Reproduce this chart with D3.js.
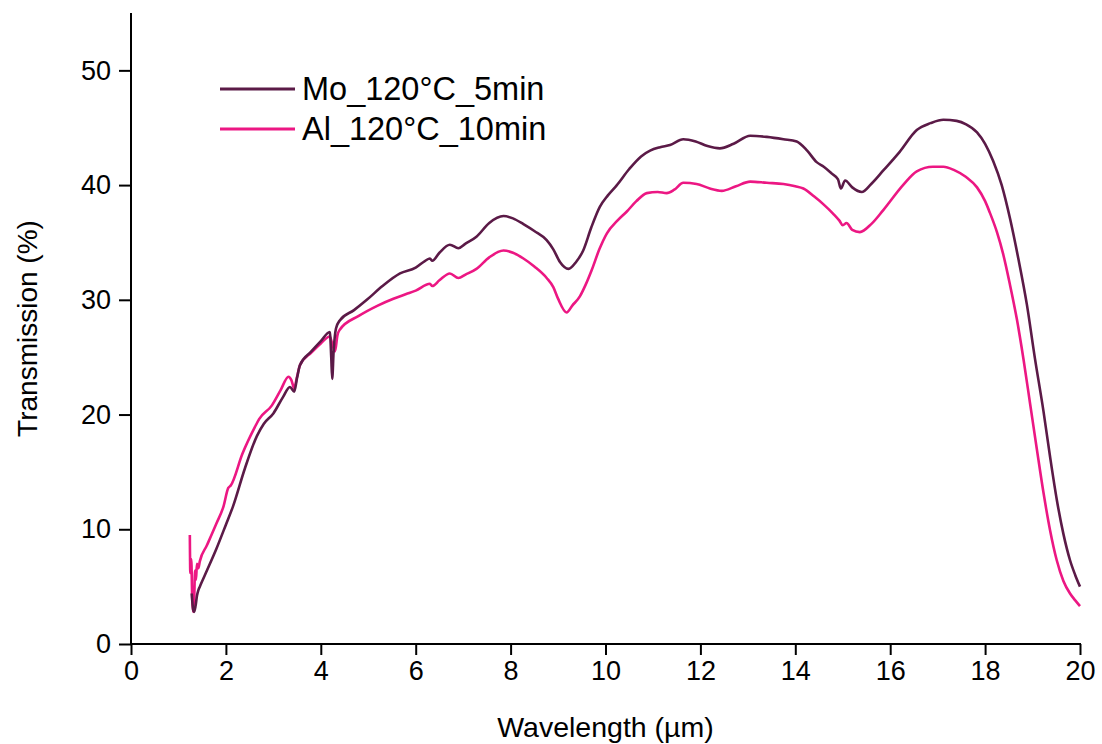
<!DOCTYPE html>
<html>
<head>
<meta charset="utf-8">
<script src="https://cdn.jsdelivr.net/npm/d3@7"></script>
<style>
  body { margin: 0; background: #fff; }
  svg text { font-family: "Liberation Sans", Arial, sans-serif; fill: #000; }
</style>
</head>
<body>
<svg width="1102" height="744"></svg>
<script>
// [wavelength µm, transmission %]
const moData = [
  [1.28, 4.4], [1.31, 3.0], [1.33, 2.8], [1.36, 3.3], [1.39, 4.2], [1.42, 4.7], [1.45, 5.0],
  [1.6, 6.4], [1.8, 8.3], [2.0, 10.4], [2.15, 12.0], [2.4, 15.3], [2.65, 18.1], [2.8, 19.2],
  [3.0, 20.1], [3.2, 21.5], [3.35, 22.4], [3.44, 22.0], [3.5, 23.2], [3.56, 24.3], [3.8, 25.5],
  [4.0, 26.4], [4.19, 27.2], [4.22, 25.0], [4.24, 23.1], [4.27, 25.5], [4.32, 27.5], [4.4, 28.2],
  [4.7, 29.1], [4.97, 30.0], [5.3, 31.2], [5.67, 32.3], [6.0, 32.8], [6.2, 33.4], [6.3, 33.6],
  [6.35, 33.4], [6.5, 34.1], [6.72, 34.8], [6.9, 34.5], [7.05, 34.9], [7.28, 35.5], [7.55, 36.7],
  [7.85, 37.3], [8.05, 37.1], [8.27, 36.6], [8.5, 36.0], [8.76, 35.2], [8.9, 34.4], [9.04, 33.3],
  [9.22, 32.7], [9.38, 33.3], [9.53, 34.3], [9.7, 36.3], [9.88, 38.1], [10.05, 39.1], [10.24, 40.0],
  [10.5, 41.4], [10.75, 42.5], [10.94, 43.0], [11.15, 43.3], [11.36, 43.5], [11.64, 44.0],
  [11.9, 43.8], [12.15, 43.4], [12.41, 43.2], [12.7, 43.6], [13.05, 44.3], [13.4, 44.2],
  [13.75, 44.0], [14.03, 43.8], [14.25, 43.0], [14.45, 42.0], [14.6, 41.6], [14.77, 41.0],
  [14.9, 40.5], [14.96, 39.7], [15.05, 40.4], [15.2, 39.8], [15.4, 39.4], [15.6, 40.1],
  [15.86, 41.3], [16.2, 42.9], [16.56, 44.8], [16.85, 45.4], [17.12, 45.7], [17.4, 45.6],
  [17.6, 45.3], [17.83, 44.6], [18.0, 43.6], [18.17, 42.1], [18.35, 40.0], [18.53, 37.0],
  [18.7, 33.6], [18.88, 29.6], [19.05, 24.9], [19.23, 20.3], [19.37, 16.3], [19.51, 12.6],
  [19.65, 9.6], [19.79, 7.3], [19.9, 6.0], [20.0, 5.0]
];

const alData = [
  [1.24, 9.5], [1.25, 6.2], [1.27, 7.4], [1.29, 4.0], [1.31, 2.8], [1.33, 3.6], [1.35, 6.4],
  [1.37, 5.6], [1.39, 7.0], [1.42, 6.6], [1.45, 7.2], [1.6, 8.6], [1.8, 10.5], [1.95, 12.0],
  [2.05, 13.6], [2.1, 13.8], [2.35, 16.6], [2.61, 18.9], [2.7, 19.6], [2.97, 20.8], [3.15, 22.1],
  [3.32, 23.3], [3.38, 23.0], [3.44, 22.3], [3.5, 23.3], [3.56, 24.3], [3.8, 25.4], [4.0, 26.2],
  [4.19, 26.8], [4.25, 26.0], [4.3, 25.5], [4.35, 26.9], [4.4, 27.4], [4.8, 28.6], [5.2, 29.5],
  [5.53, 30.1], [5.8, 30.5], [6.0, 30.8], [6.3, 31.4], [6.35, 31.2], [6.5, 31.7], [6.72, 32.3],
  [6.9, 31.9], [7.05, 32.2], [7.28, 32.7], [7.55, 33.7], [7.85, 34.3], [8.05, 34.1], [8.27, 33.6],
  [8.5, 32.9], [8.76, 31.9], [8.9, 31.1], [9.0, 30.1], [9.18, 28.9], [9.3, 29.5], [9.46, 30.3],
  [9.58, 31.3], [9.71, 32.6], [9.87, 34.4], [10.03, 35.8], [10.25, 36.9], [10.45, 37.7],
  [10.65, 38.6], [10.87, 39.3], [11.1, 39.4], [11.29, 39.3], [11.45, 39.6], [11.64, 40.2],
  [11.92, 40.1], [12.2, 39.7], [12.45, 39.5], [12.75, 39.9], [13.05, 40.3], [13.4, 40.2],
  [13.75, 40.1], [14.0, 39.9], [14.17, 39.7], [14.4, 39.0], [14.6, 38.3], [14.8, 37.5],
  [14.93, 36.9], [15.0, 36.5], [15.08, 36.7], [15.2, 36.1], [15.36, 35.9], [15.6, 36.6],
  [15.85, 37.8], [16.27, 40.0], [16.56, 41.2], [16.9, 41.6], [17.12, 41.6], [17.35, 41.3],
  [17.6, 40.7], [17.83, 39.8], [18.0, 38.6], [18.1, 37.6], [18.25, 35.9], [18.38, 34.0],
  [18.52, 31.4], [18.67, 28.3], [18.81, 24.8], [18.95, 20.9], [19.09, 17.0], [19.23, 13.2],
  [19.37, 9.9], [19.51, 7.3], [19.65, 5.5], [19.79, 4.4], [19.9, 3.8], [20.0, 3.3]
];

const seriesNames = ["Mo_120°C_5min", "Al_120°C_10min"];
const seriesColors = ["#5b1a47", "#ec1783"];
const xMajorTicks = [0, 2, 4, 6, 8, 10, 12, 14, 16, 18, 20];
const xMinorTicks = [1, 3, 5, 7, 9, 11, 13, 15, 17, 19];
const yMajorTicks = [0, 10, 20, 30, 40, 50];
const yMinorTicks = [5, 15, 25, 35, 45, 55];

const svg = d3.select("svg");
const plotLeft = 131, plotRight = 1080, plotTop = 13, plotBottom = 644;

const x = d3.scaleLinear().domain([0, 20]).range([plotLeft, plotRight]);
const y = d3.scaleLinear().domain([0, 55]).range([plotBottom, plotTop]);

const line = d3.line()
    .x(d => x(d[0]))
    .y(d => y(d[1]))
    .curve(d3.curveMonotoneX);

// curves: pink first, dark on top
[alData, moData].forEach((data, i) => {
    svg.append("path")
        .datum(data)
        .attr("fill", "none")
        .attr("stroke", seriesColors[1 - i])
        .attr("stroke-width", 2.6)
        .attr("stroke-linejoin", "round")
        .attr("d", line);
});

// x axis
const xAxis = svg.append("g").attr("transform", `translate(0,${plotBottom})`);
xAxis.call(d3.axisBottom(x).tickValues(xMinorTicks).tickSize(6).tickFormat(""));
xAxis.call(d3.axisBottom(x).tickValues(xMajorTicks).tickSize(11).tickPadding(6).tickFormat(d3.format("d")));

// y axis
const yAxis = svg.append("g").attr("transform", `translate(${plotLeft},0)`);
yAxis.call(d3.axisLeft(y).tickValues(yMinorTicks).tickSize(6).tickFormat(""));
yAxis.call(d3.axisLeft(y).tickValues(yMajorTicks).tickSize(12).tickPadding(8).tickFormat(d3.format("d")));

svg.selectAll(".domain").remove();
svg.selectAll(".tick line").attr("stroke", "#000").attr("stroke-width", 2);
svg.selectAll(".tick text").style("font-size", "27px").attr("fill", "#000");

svg.append("line")
    .attr("x1", plotLeft).attr("x2", plotLeft)
    .attr("y1", plotTop).attr("y2", plotBottom + 1)
    .attr("stroke", "#000").attr("stroke-width", 2);
svg.append("line")
    .attr("x1", plotLeft - 1).attr("x2", plotRight + 1)
    .attr("y1", plotBottom).attr("y2", plotBottom)
    .attr("stroke", "#000").attr("stroke-width", 2);

// axis titles
svg.append("text")
    .attr("x", (plotLeft + plotRight) / 2)
    .attr("y", 737)
    .attr("text-anchor", "middle")
    .style("font-size", "28.5px")
    .text("Wavelength (µm)");

svg.append("text")
    .attr("transform", `translate(37,${(plotTop + plotBottom) / 2}) rotate(-90)`)
    .attr("text-anchor", "middle")
    .style("font-size", "28px")
    .text("Transmission (%)");

// legend
const legend = svg.append("g");
seriesNames.forEach((name, i) => {
    const ly = 89 + i * 40;
    legend.append("line")
        .attr("x1", 220).attr("x2", 295)
        .attr("y1", ly).attr("y2", ly)
        .attr("stroke", seriesColors[i])
        .attr("stroke-width", 3);
    legend.append("text")
        .attr("x", 302)
        .attr("y", ly + 11)
        .style("font-size", "32.5px")
        .text(name);
});
</script>
</body>
</html>
